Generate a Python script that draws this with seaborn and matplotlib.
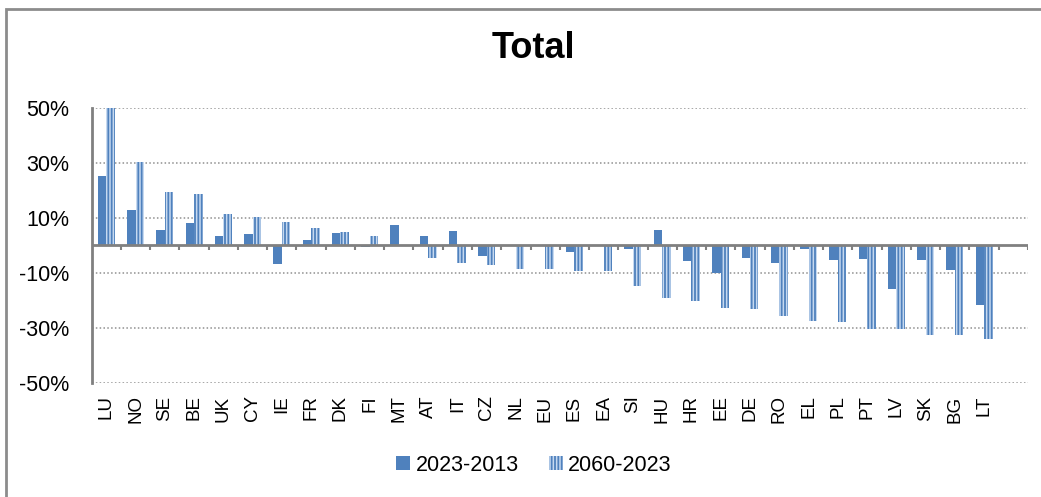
import numpy as np
import pandas as pd
import seaborn as sns
import matplotlib.pyplot as plt
from matplotlib.patches import Patch, Rectangle

# Country codes and the two change series (percent)
countries = ['LU', 'NO', 'SE', 'BE', 'UK', 'CY', 'IE', 'FR', 'DK', 'FI', 'MT',
             'AT', 'IT', 'CZ', 'NL', 'EU', 'ES', 'EA', 'SI', 'HU', 'HR', 'EE',
             'DE', 'RO', 'EL', 'PL', 'PT', 'LV', 'SK', 'BG', 'LT']
chg_2023_2013 = [25.3, 12.8, 5.5, 8.1, 3.6, 4.2, -6.7, 1.9, 4.5, -0.5, 7.6,
                 3.6, 5.3, -3.8, 0.0, -0.3, -2.4, 0.0, -1.1, 5.7, -5.8, -9.9,
                 -4.6, -6.4, -1.1, -5.1, -5.0, -15.8, -5.1, -9.0, -21.7]
chg_2060_2023 = [50.0, 30.2, 19.4, 18.8, 11.6, 10.2, 8.7, 6.2, 5.0, 3.6, 0.0,
                 -4.4, -6.5, -7.0, -8.4, -8.4, -9.2, -9.2, -14.9, -19.2, -20.1, -22.9,
                 -23.2, -25.8, -27.6, -28.0, -30.4, -30.4, -32.7, -32.7, -34.1]
periods = ['2023-2013', '2060-2023']
yticks = [50, 30, 10, -10, -30, -50]

dark_blue = '#4f81bd'
light_blue = '#c6d9f0'

df = pd.DataFrame({
    'country': countries * 2,
    'period': [periods[0]] * len(countries) + [periods[1]] * len(countries),
    'value': chg_2023_2013 + chg_2060_2023,
})

sns.set_style('white')
plt.rcParams['font.family'] = ['Liberation Sans', 'DejaVu Sans']
plt.rcParams['text.color'] = 'black'
plt.rcParams['xtick.labelcolor'] = 'black'
plt.rcParams['ytick.labelcolor'] = 'black'
plt.rcParams['hatch.linewidth'] = 1.3

fig = plt.figure(figsize=(10.41, 4.97), dpi=100)
ax = fig.add_axes([0.088, 0.2294, 0.8995, 0.5533])

sns.barplot(data=df, x='country', y='value', hue='period', order=countries,
            palette=[dark_blue, light_blue], width=0.58, ax=ax,
            saturation=1, legend=False, errorbar=None)

# hatched look for the second series
for bar in ax.containers[1]:
    bar.set_hatch('|||||')
    bar.set_edgecolor(dark_blue)
    bar.set_linewidth(0)
for bar in ax.containers[0]:
    bar.set_linewidth(0)

ax.set_xlim(-0.5, len(countries) + 0.5)
ax.set_ylim(-50, 50)
ax.set_yticks(yticks)
ax.set_yticklabels([f'{v}%' for v in yticks], fontsize=15.5)
ax.tick_params(axis='y', length=7, width=1.5, color='#808080', pad=9)
ax.tick_params(axis='x', length=0, pad=9, labelsize=13.5, labelrotation=90)
ax.set_xlabel('')
ax.set_ylabel('')

ax.grid(axis='y', linestyle=(0, (1, 1.5)), color='#909090', linewidth=1.1)
ax.set_axisbelow(True)
for s in ['top', 'right', 'bottom']:
    ax.spines[s].set_visible(False)
ax.spines['left'].set_color('#808080')
ax.spines['left'].set_linewidth(2)

# zero line with category separators
ax.axhline(0, color='#808080', lw=2, zorder=3)
bounds = np.arange(len(countries) + 1) + 0.5
ax.vlines(bounds, -1.8, 0, color='#808080', lw=1.5, zorder=3)

fig.text(0.512, 0.903, 'Total', ha='center', va='center',
         fontsize=26, fontweight='bold', color='black')

handles = [Patch(facecolor=dark_blue, edgecolor='none'),
           Patch(facecolor=light_blue, edgecolor=dark_blue, hatch='|||||', lw=0)]
fig.legend(handles, periods, loc='center', bbox_to_anchor=(0.513, 0.064),
           ncol=2, frameon=False, fontsize=15.5, handlelength=0.65,
           handleheight=0.65, handletextpad=0.25, columnspacing=1.4)

fig.patches.append(Rectangle((6 / 1041, -0.1), 1.2, 1 - 9 / 497 + 0.1,
                             transform=fig.transFigure, fill=False,
                             edgecolor='#8c8c8c', lw=2))

fig.savefig('out.png', dpi=100)
